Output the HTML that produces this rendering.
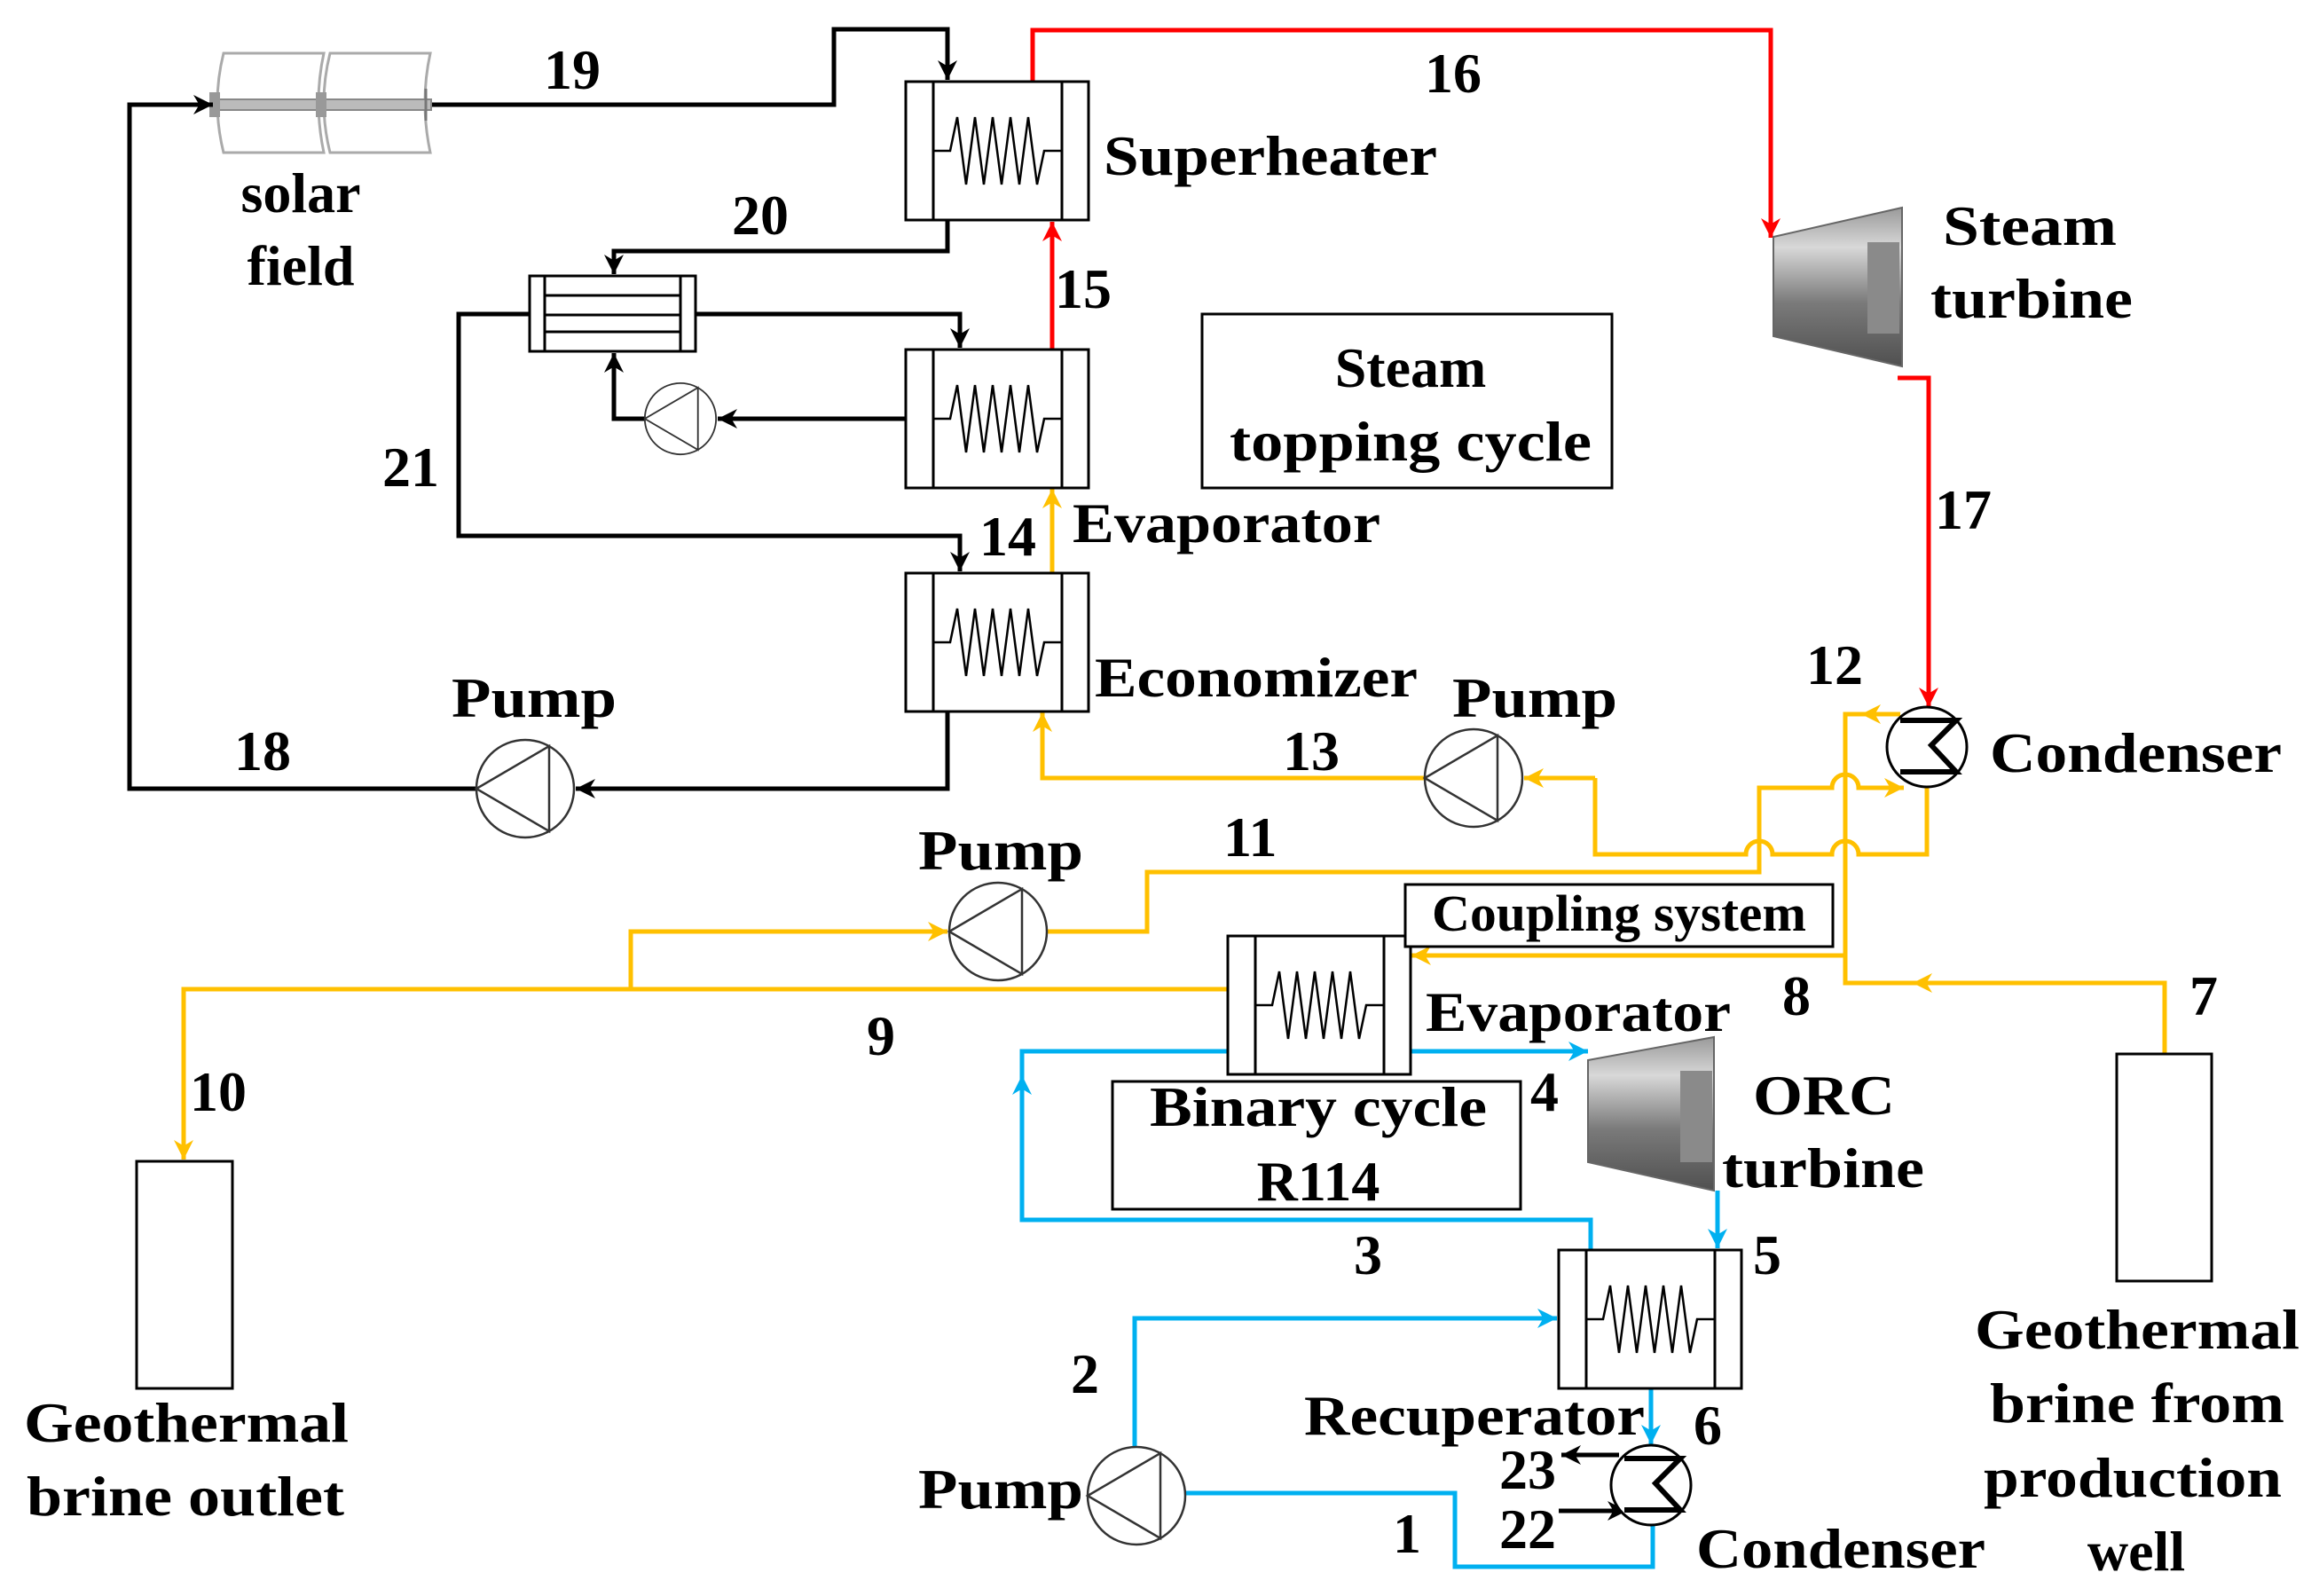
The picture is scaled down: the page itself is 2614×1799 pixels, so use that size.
<!DOCTYPE html>
<html><head><meta charset="utf-8"><style>
html,body{margin:0;padding:0;background:#fff}
svg{display:block}
text{font-family:"Liberation Serif","Times New Roman",serif;font-weight:bold;font-size:64px;fill:#000}
</style></head><body>
<svg width="2614" height="1799" viewBox="0 0 2614 1799" xmlns="http://www.w3.org/2000/svg">
<defs>
<marker id="ak" viewBox="0 0 10 10" refX="10" refY="5" markerWidth="24" markerHeight="22" markerUnits="userSpaceOnUse" orient="auto"><path d="M0 0L10 5L0 10L3 5z" fill="#000"/></marker>
<marker id="ar" viewBox="0 0 10 10" refX="10" refY="5" markerWidth="24" markerHeight="22" markerUnits="userSpaceOnUse" orient="auto"><path d="M0 0L10 5L0 10L3 5z" fill="#f00"/></marker>
<marker id="ay" viewBox="0 0 10 10" refX="10" refY="5" markerWidth="24" markerHeight="22" markerUnits="userSpaceOnUse" orient="auto"><path d="M0 0L10 5L0 10L3 5z" fill="#FFC000"/></marker>
<marker id="ab" viewBox="0 0 10 10" refX="10" refY="5" markerWidth="24" markerHeight="22" markerUnits="userSpaceOnUse" orient="auto"><path d="M0 0L10 5L0 10L3 5z" fill="#00B0F0"/></marker>
<linearGradient id="tg" x1="0" y1="0" x2="0" y2="1"><stop offset="0" stop-color="#9a9a9a"/><stop offset="0.25" stop-color="#d8d8d8"/><stop offset="0.6" stop-color="#7a7a7a"/><stop offset="1" stop-color="#505050"/></linearGradient>
<g id="hx"><rect x="0" y="0" width="206" height="156" fill="#fff" stroke="#000" stroke-width="3"/><line x1="31" y1="0" x2="31" y2="156" stroke="#000" stroke-width="3"/><line x1="176" y1="0" x2="176" y2="156" stroke="#000" stroke-width="3"/><path d="M31 78H50l8 -38l10 76l10 -76l10 76l10 -76l10 76l10 -76l10 76l10 -76l10 76l8 -38H176" fill="none" stroke="#000" stroke-width="2.5"/></g>
<g id="pump"><circle cx="0" cy="0" r="55" fill="#fff" stroke="#333" stroke-width="2.5"/><path d="M27 -48V48L-55 0z" fill="none" stroke="#333" stroke-width="2.5"/></g>
<g id="cond"><circle cx="0" cy="0" r="45" fill="#fff" stroke="#000" stroke-width="3"/><path d="M-30 -30H33L5 -2L33 28H-30" fill="none" stroke="#000" stroke-width="6"/></g>
</defs>

<!-- solar field -->
<g fill="none" stroke="#aaa" stroke-width="3">
<path d="M252 60H365q-12 55 0 112H252q-14 -56 0 -112z"/>
<path d="M372 60H485q-12 55 0 112H372q-14 -56 0 -112z"/>
</g>
<rect x="240" y="112" width="246" height="12" fill="#bbb" stroke="#888" stroke-width="2"/>
<rect x="236" y="104" width="12" height="28" fill="#999"/><rect x="356" y="104" width="12" height="28" fill="#999"/>
<path d="M480 100v36" stroke="#777" stroke-width="3"/>

<g fill="none" stroke-width="5" stroke-linejoin="miter">
<!-- black -->
<g stroke="#000">
<path d="M487 118H940V33H1068V90" marker-end="url(#ak)"/>
<path d="M537 889H146V118H240" marker-end="url(#ak)"/>
<path d="M1068 801V889H649" marker-end="url(#ak)"/>
<path d="M1068 249V283H692V309" marker-end="url(#ak)"/>
<path d="M784 354H1082V392" marker-end="url(#ak)"/>
<path d="M1021 472H809" marker-end="url(#ak)"/>
<path d="M727 472H692V398" marker-end="url(#ak)"/>
<path d="M597 354H517V604H1082V644" marker-end="url(#ak)"/>
<path d="M1825 1640H1760" marker-end="url(#ak)"/>
<path d="M1757 1703H1834" marker-end="url(#ak)"/>
</g>
<!-- red -->
<g stroke="#f00">
<path d="M1164 92V34H1996V268" marker-end="url(#ar)"/>
<path d="M1186 394V250" marker-end="url(#ar)"/>
<path d="M2139 426H2174V797" marker-end="url(#ar)"/>
</g>
<!-- yellow -->
<g stroke="#FFC000">
<path d="M1186 646V551" marker-end="url(#ay)"/>
<path d="M1606 877H1175V803" marker-end="url(#ay)"/>
<path d="M1798 877H1718" marker-end="url(#ay)"/>
<path d="M2172 887V963H2095a15 15 0 0 0 -30 0H1998a15 15 0 0 0 -30 0H1798V877"/>
<path d="M1180 1050H1293V983H1983V888H2065a15 15 0 0 1 30 0H2146" marker-end="url(#ay)"/>
<path d="M2142 805H2098" marker-end="url(#ay)"/>
<path d="M2100 805H2080V1108H2440V1188"/>
<path d="M2200 1108H2156" marker-end="url(#ay)"/>
<path d="M2080 1077H1591" marker-end="url(#ay)"/>
<path d="M1384 1115H207V1307" marker-end="url(#ay)"/>
<path d="M711 1115V1050H1068" marker-end="url(#ay)"/>
</g>
<!-- blue -->
<g stroke="#00B0F0">
<path d="M1589 1185H1790" marker-end="url(#ab)"/>
<path d="M1936 1342V1407" marker-end="url(#ab)"/>
<path d="M1793 1409V1375H1152V1212" marker-end="url(#ab)"/>
<path d="M1152 1220V1185H1384"/>
<path d="M1279 1631V1486H1755" marker-end="url(#ab)"/>
<path d="M1336 1683H1640V1766H1863V1719"/>
<path d="M1861 1565V1628" marker-end="url(#ab)"/>
</g>
</g>

<!-- heat exchangers -->
<use href="#hx" x="1021" y="92"/>
<use href="#hx" x="1021" y="394"/>
<use href="#hx" x="1021" y="646"/>
<use href="#hx" x="1384" y="1055"/>
<use href="#hx" x="1757" y="1409"/>

<!-- small HX -->
<g stroke="#000" stroke-width="3" fill="#fff">
<rect x="597" y="311" width="187" height="85"/>
<line x1="614" y1="311" x2="614" y2="396"/><line x1="767" y1="311" x2="767" y2="396"/>
<line x1="614" y1="333" x2="767" y2="333"/><line x1="614" y1="355" x2="767" y2="355"/><line x1="614" y1="374" x2="767" y2="374"/>
</g>
<!-- small pump -->
<g transform="translate(767 472) scale(0.73)"><use href="#pump"/></g>
<use href="#pump" x="592" y="889"/>
<use href="#pump" x="1661" y="877"/>
<use href="#pump" x="1125" y="1050"/>
<use href="#pump" x="1281" y="1686"/>
<use href="#cond" x="2172" y="842"/>
<use href="#cond" x="1861" y="1674"/>

<!-- turbines -->
<polygon points="1999,267 2144,234 2144,413 1999,379" fill="url(#tg)" stroke="#666" stroke-width="2"/>
<rect x="2105" y="273" width="36" height="103" fill="#8a8a8a"/>
<polygon points="1790,1195 1932,1169 1932,1342 1790,1310" fill="url(#tg)" stroke="#666" stroke-width="2"/>
<rect x="1894" y="1207" width="36" height="103" fill="#8a8a8a"/>

<!-- boxes -->
<g fill="none" stroke="#000" stroke-width="3">
<rect x="1355" y="354" width="462" height="196"/>
<rect x="1584" y="997" width="482" height="70" fill="#fff"/>
<rect x="1254" y="1219" width="460" height="144"/>
<rect x="2386" y="1188" width="107" height="256"/>
<rect x="154" y="1309" width="108" height="256"/>
</g>

<!-- labels -->
<text x="613" y="100">19</text>
<text x="1606" y="104">16</text>
<text x="1244" y="197" textLength="376" lengthAdjust="spacingAndGlyphs">Superheater</text>
<text x="339" y="239" text-anchor="middle">solar</text>
<text x="339" y="321" text-anchor="middle">field</text>
<text x="825" y="264">20</text>
<text x="1189" y="347">15</text>
<text x="2190" y="276" textLength="196" lengthAdjust="spacingAndGlyphs">Steam</text>
<text x="2176" y="358" textLength="228" lengthAdjust="spacingAndGlyphs">turbine</text>
<text x="1590" y="436" text-anchor="middle">Steam</text>
<text x="1386" y="519" textLength="408" lengthAdjust="spacingAndGlyphs">topping cycle</text>
<text x="431" y="548">21</text>
<text x="1209" y="611" textLength="347" lengthAdjust="spacingAndGlyphs">Evaporator</text>
<text x="1104" y="626">14</text>
<text x="2181" y="596">17</text>
<text x="1234" y="785" textLength="364" lengthAdjust="spacingAndGlyphs">Economizer</text>
<text x="509" y="808" textLength="186" lengthAdjust="spacingAndGlyphs">Pump</text>
<text x="1637" y="808" textLength="186" lengthAdjust="spacingAndGlyphs">Pump</text>
<text x="2036" y="771">12</text>
<text x="2243" y="870" textLength="329" lengthAdjust="spacingAndGlyphs">Condenser</text>
<text x="264" y="868">18</text>
<text x="1446" y="868">13</text>
<text x="1035" y="980" textLength="186" lengthAdjust="spacingAndGlyphs">Pump</text>
<text x="1379" y="965">11</text>
<text x="1614" y="1049" style="font-size:58px" textLength="422" lengthAdjust="spacingAndGlyphs">Coupling system</text>
<text x="1607" y="1162" textLength="344" lengthAdjust="spacingAndGlyphs">Evaporator</text>
<text x="2009" y="1144">8</text>
<text x="2468" y="1144">7</text>
<text x="977" y="1189">9</text>
<text x="214" y="1252">10</text>
<text x="1725" y="1252">4</text>
<text x="1296" y="1269" textLength="380" lengthAdjust="spacingAndGlyphs">Binary cycle</text>
<text x="1486" y="1353" text-anchor="middle">R114</text>
<text x="1976" y="1256" textLength="160" lengthAdjust="spacingAndGlyphs">ORC</text>
<text x="1941" y="1338" textLength="228" lengthAdjust="spacingAndGlyphs">turbine</text>
<text x="1526" y="1436">3</text>
<text x="1976" y="1436">5</text>
<text x="1207" y="1570">2</text>
<text x="2226" y="1520" textLength="366" lengthAdjust="spacingAndGlyphs">Geothermal</text>
<text x="2243" y="1603" textLength="332" lengthAdjust="spacingAndGlyphs">brine from</text>
<text x="2236" y="1687" textLength="336" lengthAdjust="spacingAndGlyphs">production</text>
<text x="2408" y="1770" text-anchor="middle">well</text>
<text x="1470" y="1617" textLength="384" lengthAdjust="spacingAndGlyphs">Recuperator</text>
<text x="1909" y="1628">6</text>
<text x="1690" y="1678">23</text>
<text x="1035" y="1700" textLength="186" lengthAdjust="spacingAndGlyphs">Pump</text>
<text x="1690" y="1745">22</text>
<text x="1570" y="1750">1</text>
<text x="1912" y="1767" textLength="326" lengthAdjust="spacingAndGlyphs">Condenser</text>
<text x="27" y="1625" textLength="366" lengthAdjust="spacingAndGlyphs">Geothermal</text>
<text x="30" y="1708" textLength="358" lengthAdjust="spacingAndGlyphs">brine outlet</text>
</svg>
</body></html>
